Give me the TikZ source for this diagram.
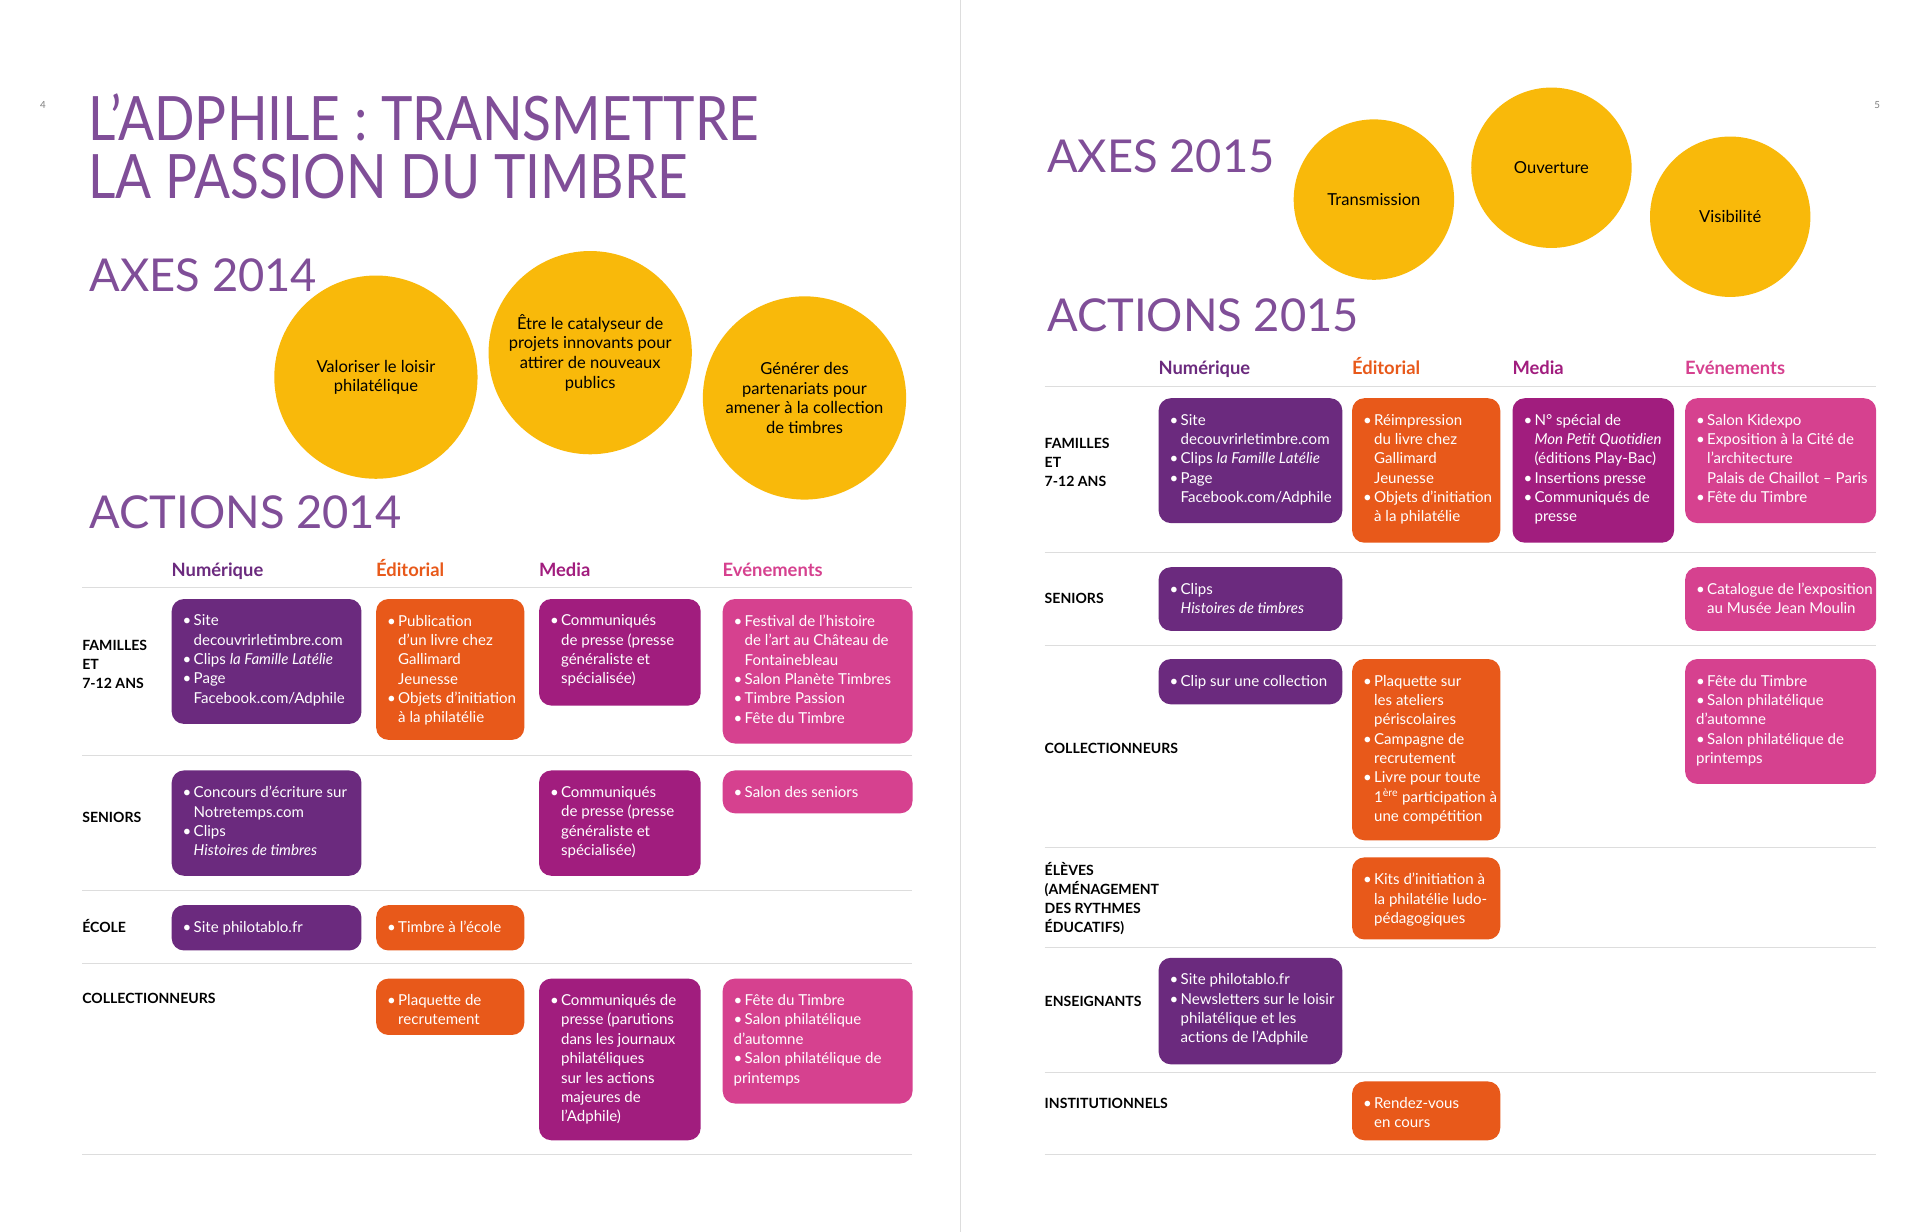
\documentclass[tikz,border=0pt]{standalone}
\usepackage{fontspec}
\setmainfont{Lato}
\definecolor{cnum}{HTML}{6B2A7E}
\definecolor{cedi}{HTML}{E8591A}
\definecolor{cmed}{HTML}{A11D7E}
\definecolor{cev}{HTML}{D6418F}
\definecolor{cyel}{HTML}{F9B90A}
\definecolor{ctit}{HTML}{6A2F86}
\definecolor{cline}{HTML}{DDDDDD}
\newcommand\bu{\makebox[9pt][l]{•}}
\newcommand\cn{\hspace*{9pt}}
\tikzset{
 boxs/.style={rounded corners=10pt,inner sep=0pt,anchor=north west},
 txt/.style={anchor=north west,inner sep=0pt,text=white,align=left,font=\fontsize{12.3}{15.8}\selectfont},
 lab/.style={anchor=north west,inner sep=0pt,align=left,font=\bfseries\fontsize{11.5}{15.5}\selectfont},
 hdr/.style={anchor=base west,inner sep=0pt,font=\bfseries\fontsize{15}{18}\selectfont},
 circ/.style={circle,fill=cyel,inner sep=0pt,align=center,font=\fontsize{13.5}{16}\selectfont},
 big/.style={anchor=base west,inner sep=0pt,text=ctit!85,font=\fontsize{37}{40}\selectfont},
 sep/.style={draw=cline,line width=0.8pt}
}
\newcommand\tb[7]{%
 \node[boxs,fill=#6,minimum width={(#4-#2)*1pt},minimum height={(#5-#3)*1pt}] (#1) at (#2,#3) {};
 \node[txt] (#1t) at ([xshift=9pt,yshift=-13pt]#1.north west) {#7};}
\begin{document}
\begin{tikzpicture}[x=1pt,y=-1pt]
\useasboundingbox[fill=white] (0,0) rectangle (1568,1006);
\draw[draw=cline,line width=0.6pt] (784,0) coordinate (d1) -- (784,1006) coordinate (d2);
\node[text=gray,font=\fontsize{8}{9}\selectfont] (p4) at (35,86) {4};
\node[text=gray,font=\fontsize{8}{9}\selectfont] (p5) at (1533,86) {5};
% left titles
\node[anchor=base west,inner sep=0,text=ctit!85,font=\fontsize{50}{52}\selectfont] (t1) at (72,115) {\scalebox{0.87}[1]{L'ADPHILE : TRANSMETTRE}};
\node[anchor=base west,inner sep=0,text=ctit!85,font=\fontsize{50}{52}\selectfont] (t2) at (72,162) {\scalebox{0.87}[1]{LA PASSION DU TIMBRE}};
\node[big] (ax14) at (73,238) {AXES 2014};
\node[big] (ac14) at (73,432) {ACTIONS 2014};
\node[circ,minimum size=166pt] (c1) at (307,308) {Valoriser le loisir\\philatélique};
\node[circ,minimum size=166pt] (c2) at (482,288) {Être le catalyseur de\\projets innovants pour\\attirer de nouveaux\\publics};
\node[circ,minimum size=166pt] (c3) at (657,325) {Générer des\\partenariats pour\\amener à la collection\\de timbres};
\node[hdr,text=cnum] (h1) at (140,471) {Numérique};
\node[hdr,text=cedi] (h2) at (307,471) {Éditorial};
\node[hdr,text=cmed] (h3) at (440,471) {Media};
\node[hdr,text=cev] (h4) at (590,471) {Evénements};
\foreach \y/\n in {480/a,617/b,727/c,787/d,943/e}{\draw[sep] (67,\y) coordinate (l\n) -- (745,\y) coordinate (r\n);}
\node[lab] (la) at (67,523) {FAMILLES\\ET\\7-12 ANS};
\node[lab] (lb) at (67,663) {SENIORS};
\node[lab] (lc) at (67,751) {ÉCOLE};
\node[lab] (ld) at (67,811) {COLLECTIONNEURS};
\tb{a1}{140}{489}{295}{591}{cnum}{\bu Site\\\cn decouvrirletimbre.com\\\bu Clips \textit{la Famille Latélie}\\\bu Page\\\cn Facebook.com/Adphile}
\tb{a2}{307}{489}{428}{604}{cedi}{\bu Publication\\\cn d'un livre chez\\\cn Gallimard\\\cn Jeunesse\\\bu Objets d'initiation\\\cn à la philatélie}
\tb{a3}{440}{489}{572}{576}{cmed}{\bu Communiqués\\\cn de presse (presse\\\cn généraliste et\\\cn spécialisée)}
\tb{a4}{590}{489}{745}{607}{cev}{\bu Festival de l'histoire\\\cn de l'art au Château de\\\cn Fontainebleau\\\bu Salon Planète Timbres\\\bu Timbre Passion\\\bu Fête du Timbre}
\tb{b1}{140}{629}{295}{715}{cnum}{\bu Concours d'écriture sur\\\cn Notretemps.com\\\bu Clips\\\cn \textit{Histoires de timbres}}
\tb{b3}{440}{629}{572}{715}{cmed}{\bu Communiqués\\\cn de presse (presse\\\cn généraliste et\\\cn spécialisée)}
\tb{b4}{590}{629}{745}{664}{cev}{\bu Salon des seniors}
\tb{c1b}{140}{739}{295}{776}{cnum}{\bu Site philotablo.fr}
\tb{c2b}{307}{739}{428}{776}{cedi}{\bu Timbre à l'école}
\tb{d2}{307}{799}{428}{845}{cedi}{\bu Plaquette de\\\cn recrutement}
\tb{d3}{440}{799}{572}{931}{cmed}{\bu Communiqués de\\\cn presse (parutions\\\cn dans les journaux\\\cn philatéliques\\\cn sur les actions\\\cn majeures de\\\cn l'Adphile)}
\tb{d4}{590}{799}{745}{901}{cev}{\bu Fête du Timbre\\\bu Salon philatélique\\d'automne\\\bu Salon philatélique de\\printemps}
% right page
\node[big] (ax15) at (855,141) {AXES 2015};
\node[big] (ac15) at (855,271) {ACTIONS 2015};
\node[circ,minimum size=131pt] (k1) at (1122,163) {Transmission};
\node[circ,minimum size=131pt] (k2) at (1267,137) {Ouverture};
\node[circ,minimum size=131pt] (k3) at (1413,177) {Visibilité};
\node[hdr,text=cnum] (g1) at (946,306) {Numérique};
\node[hdr,text=cedi] (g2) at (1104,306) {Éditorial};
\node[hdr,text=cmed] (g3) at (1235,306) {Media};
\node[hdr,text=cev] (g4) at (1376,306) {Evénements};
\foreach \y/\n in {316/a,451/b,527/c,692/d,774/e,876/f,943/g}{\draw[sep] (853,\y) coordinate (m\n) -- (1532,\y) coordinate (n\n);}
\node[lab] (ma) at (853,358) {FAMILLES\\ET\\7-12 ANS};
\node[lab] (mb) at (853,484) {SENIORS};
\node[lab] (mc) at (853,607) {COLLECTIONNEURS};
\node[lab] (md) at (853,704) {ÉLÈVES\\(AMÉNAGEMENT\\DES RYTHMES\\ÉDUCATIFS)};
\node[lab] (me) at (853,813) {ENSEIGNANTS};
\node[lab] (mf) at (853,897) {INSTITUTIONNELS};
\tb{e1}{946}{325}{1096}{427}{cnum}{\bu Site\\\cn decouvrirletimbre.com\\\bu Clips \textit{la Famille Latélie}\\\bu Page\\\cn Facebook.com/Adphile}
\tb{e2}{1104}{325}{1225}{443}{cedi}{\bu Réimpression\\\cn du livre chez\\\cn Gallimard\\\cn Jeunesse\\\bu Objets d'initiation\\\cn à la philatélie}
\tb{e3}{1235}{325}{1367}{443}{cmed}{\bu N° spécial de\\\cn \textit{Mon Petit Quotidien}\\\cn (éditions Play-Bac)\\\bu Insertions presse\\\bu Communiqués de\\\cn presse}
\tb{e4}{1376}{325}{1532}{427}{cev}{\bu Salon Kidexpo\\\bu Exposition à la Cité de\\\cn l'architecture\\\cn Palais de Chaillot – Paris\\\bu Fête du Timbre}
\tb{f1}{946}{463}{1096}{515}{cnum}{\bu Clips\\\cn \textit{Histoires de timbres}}
\tb{f4}{1376}{463}{1532}{515}{cev}{\bu Catalogue de l'exposition\\\cn au Musée Jean Moulin}
\tb{g1b}{946}{538}{1096}{575}{cnum}{\bu Clip sur une collection}
\tb{g2b}{1104}{538}{1225}{686}{cedi}{\bu Plaquette sur\\\cn les ateliers\\\cn périscolaires\\\bu Campagne de\\\cn recrutement\\\bu Livre pour toute\\\cn 1\textsuperscript{ère} participation à\\\cn une compétition}
\tb{g4b}{1376}{538}{1532}{640}{cev}{\bu Fête du Timbre\\\bu Salon philatélique\\d'automne\\\bu Salon philatélique de\\printemps}
\tb{h2b}{1104}{700}{1225}{767}{cedi}{\bu Kits d'initiation à\\\cn la philatélie ludo-\\\cn pédagogiques}
\tb{i1}{946}{782}{1096}{869}{cnum}{\bu Site philotablo.fr\\\bu Newsletters sur le loisir\\\cn philatélique et les\\\cn actions de l'Adphile}
\tb{j2}{1104}{883}{1225}{931}{cedi}{\bu Rendez-vous\\\cn en cours}
\end{tikzpicture}
\end{document}
